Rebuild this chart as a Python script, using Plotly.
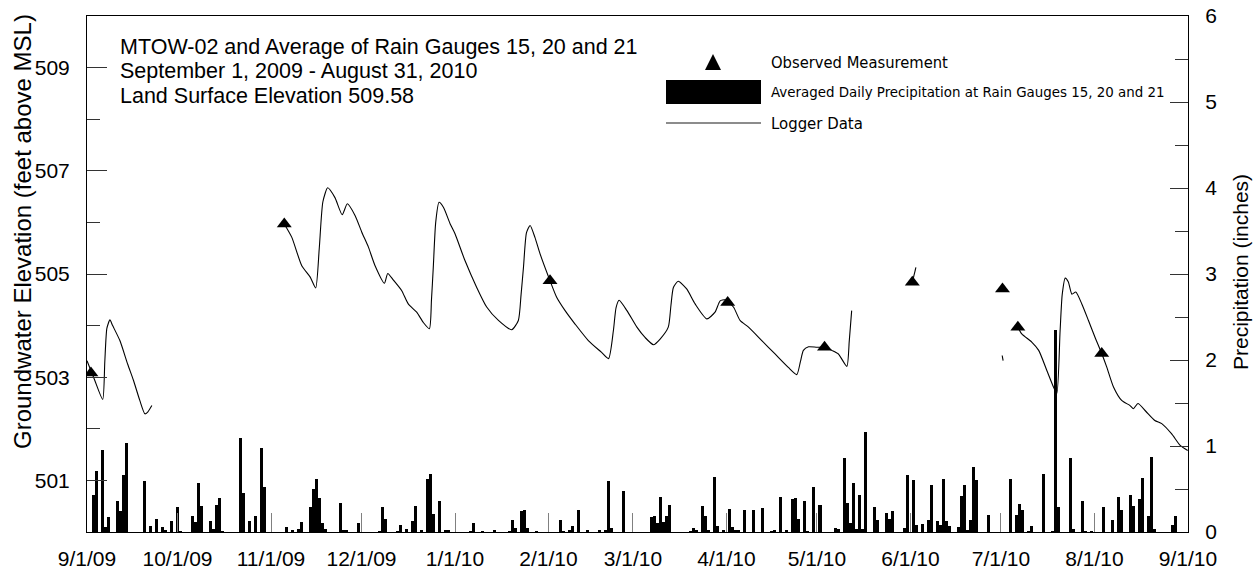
import pandas as pd
import plotly.graph_objects as go

START = pd.Timestamp("2009-09-01")

# daily precipitation (inches), day offsets from 9/1/09
rain_day = [2, 3, 5, 6, 7, 10, 11, 12, 13, 19, 21, 23, 25, 26, 28, 30, 31, 35, 36, 37, 38, 41, 42, 43, 44, 45,
            51, 52, 54, 56, 58, 59, 66, 68, 70, 71, 74, 75, 76, 77, 78, 79, 84, 85, 86, 90, 97, 98, 99,
            103, 104, 106, 108, 109, 111, 113, 114, 115, 117, 119, 120,
            127, 128, 131, 135, 140, 141, 142, 144, 145, 146, 149, 157, 158, 160, 161, 163, 166, 170, 172, 173,
            174, 178, 187, 188, 189, 190, 191, 192, 193, 200, 201, 202, 204, 205, 206, 208, 209, 211, 213, 214,
            215, 216, 218, 221, 224, 227, 228, 230, 232, 234, 235, 236, 238, 239, 241, 243, 248,
            249, 251, 252, 253, 254, 255, 256, 257, 258, 261, 262, 265, 266, 267, 271, 272, 274, 275, 277, 279,
            280, 282, 283, 284, 285, 286, 289, 290, 291, 292, 293, 294, 295, 299, 306, 308, 309, 310, 312, 313,
            317, 320, 321, 322, 326, 327, 330, 331, 333, 337, 340, 342, 343, 346, 347, 349, 350, 352, 353, 354,
            360, 361]
rain_in = [0.43, 0.71, 0.95, 0.06, 0.17, 0.36, 0.24, 0.66, 1.03, 0.59, 0.07, 0.155, 0.054, 0.027, 0.13, 0.29, 0.01,
           0.19, 0.12, 0.57, 0.30, 0.13, 0.04, 0.31, 0.40, 0.01,
           1.09, 0.45, 0.13, 0.19, 0.98, 0.52, 0.06, 0.02, 0.04, 0.12, 0.29, 0.50, 0.62, 0.40, 0.10, 0.04, 0.34,
           0.02, 0.02, 0.11, 0.01, 0.29, 0.155,
           0.01, 0.085, 0.04, 0.13, 0.30, 0.02, 0.62, 0.68, 0.21, 0.36, 0.02, 0.02,
           0.01, 0.11, 0.01, 0.02, 0.01, 0.14, 0.05, 0.24, 0.26, 0.05, 0.01, 0.14, 0.01, 0.02, 0.065, 0.26, 0.02,
           0.02, 0.02, 0.59,
           0.05, 0.48, 0.17, 0.19, 0.10, 0.41, 0.12, 0.19, 0.31, 0.01, 0.05, 0.02, 0.30, 0.19, 0.02, 0.64, 0.07,
           0.02, 0.27, 0.06,
           0.02, 0.02, 0.26, 0.26, 0.275, 0.01, 0.02, 0.41, 0.02, 0.38, 0.39, 0.15, 0.36, 0.01, 0.52, 0.31, 0.05,
           0.04, 0.86, 0.34, 0.11, 0.57, 0.03, 0.43, 0.03, 1.16, 0.29, 0.14, 0.22, 0.155, 0.24, 0.05, 0.66, 0.60,
           0.085, 0.097, 0.136,
           0.55, 0.124, 0.085, 0.62, 0.124, 0.066, 0.054, 0.42, 0.55, 0.02, 0.14, 0.76, 0.60, 0.20, 0.62, 0.20,
           0.33, 0.26, 0.01, 0.07,
           0.67, 0.01, 2.35, 0.29, 0.86, 0.04, 0.36, 0.01, 0.01, 0.29, 0.14, 0.41, 0.26, 0.43, 0.30, 0.38, 0.63,
           0.19, 0.87, 0.03,
           0.085, 0.19]

# logger data segments (day offset, elevation ft)
logger_segments = [
    [(0, 503.32), (2.5, 502.95), (5.2, 502.57), (5.9, 503.3), (6.6, 503.95), (7.6, 504.11), (8.5, 504.0),
     (10.9, 503.71), (13.5, 503.25), (15.4, 502.94), (17.5, 502.55), (19.2, 502.29), (20.2, 502.33),
     (21.5, 502.45)],
    [(65.4, 505.97), (67.9, 505.71), (71.2, 505.16), (74, 504.94), (75.8, 504.73), (77.0, 505.5),
     (78.2, 506.4), (79.8, 506.67), (82.2, 506.48), (84.6, 506.15), (86.3, 506.36), (88.9, 506.13),
     (91.1, 505.81), (93.3, 505.52), (95.5, 505.16), (98.6, 504.82), (99.7, 505.01), (101.6, 504.88),
     (104.3, 504.68), (106.5, 504.42), (109.3, 504.26), (111.5, 504.06), (113.5, 503.94), (114.2, 504.5),
     (114.8, 505.13), (115.6, 506.0), (116.7, 506.39), (118.2, 506.29), (120.4, 505.97), (122, 505.78),
     (125.3, 505.26), (129.2, 504.74), (132.5, 504.36), (136.4, 504.1), (140.8, 503.92), (143, 504.1),
     (143.9, 504.6), (144.7, 505.13), (145.7, 505.8), (146.9, 505.94), (148.5, 505.71), (150.2, 505.39),
     (153.5, 504.87), (155.7, 504.55), (158.5, 504.29), (161.8, 504.03), (166.2, 503.71), (170.6, 503.48),
     (172.9, 503.36), (174.5, 503.9), (175.4, 504.35), (176.4, 504.49), (179, 504.29), (182.3, 503.97),
     (185, 503.77), (187.8, 503.63), (190, 503.74), (192.7, 503.97), (193.6, 504.4), (194.4, 504.74),
     (196, 504.86), (198.8, 504.71), (201.6, 504.42), (205.5, 504.13), (208.2, 504.26), (209.9, 504.48),
     (211.5, 504.5), (214.3, 504.36), (216.5, 504.1), (219.3, 503.97), (223.7, 503.71), (228.1, 503.45),
     (232.5, 503.19), (235.3, 503.05), (236.5, 503.3), (237.5, 503.52), (239.2, 503.59), (242, 503.58),
     (244.5, 503.58), (246.9, 503.52), (249.1, 503.45), (251.9, 503.21), (252.7, 503.7), (253.5, 504.29)],
    [(273.6, 504.84), (274.8, 505.13)],
    [(303.4, 503.42), (303.7, 503.32)],
    [(308.6, 503.97), (309.9, 503.84), (313.2, 503.68), (315.5, 503.52), (318.2, 503.13), (320.4, 502.81),
     (321.5, 502.68), (322.6, 503.9), (323.3, 504.6), (324.3, 504.92), (325.3, 504.85), (326.5, 504.61),
     (327.8, 504.65), (329.8, 504.42), (332, 504.1), (334.2, 503.77), (336.4, 503.46), (338.1, 503.19),
     (340.3, 502.81), (343, 502.55), (345.8, 502.45), (346.9, 502.39), (348.4, 502.49), (351, 502.34),
     (354, 502.16), (356.3, 502.1), (359.6, 501.9), (362.4, 501.68), (364.9, 501.58)],
]

# observed measurements
obs_day = [1.3, 65.4, 153.5, 212.4, 244.5, 273.6, 303.5, 308.6, 336.4]
obs_elev = [503.08, 505.97, 504.87, 504.45, 503.58, 504.84, 504.71, 503.97, 503.46]

month_ticks = ["2009-09-01", "2009-10-01", "2009-11-01", "2009-12-01", "2010-01-01", "2010-02-01",
               "2010-03-01", "2010-04-01", "2010-05-01", "2010-06-01", "2010-07-01", "2010-08-01",
               "2010-09-01"]
month_labels = ["9/1/09", "10/1/09", "11/1/09", "12/1/09", "1/1/10", "2/1/10", "3/1/10", "4/1/10",
                "5/1/10", "6/1/10", "7/1/10", "8/1/10", "9/1/10"]


def to_date(d):
    return START + pd.Timedelta(days=d)


FONT = "Liberation Sans, Arial, sans-serif"
NARROW = "DejaVu Sans Condensed, Liberation Sans Narrow, sans-serif"

line_x, line_y = [], []
for seg in logger_segments:
    for d, v in seg:
        line_x.append(to_date(d))
        line_y.append(v)
    line_x.append(None)
    line_y.append(None)

fig = go.Figure()
fig.add_trace(go.Bar(x=[to_date(d) for d in rain_day], y=rain_in, yaxis="y",
                     marker=dict(color="black", line=dict(width=0)),
                     width=86400000 * 1.0, showlegend=False))
fig.add_trace(go.Scatter(x=line_x, y=line_y, yaxis="y2", mode="lines",
                         line=dict(color="black", width=1.1, shape="spline", smoothing=0.6),
                         connectgaps=False, showlegend=False))
fig.add_trace(go.Scatter(x=[to_date(d) for d in obs_day], y=obs_elev, yaxis="y2", mode="markers",
                         marker=dict(symbol="triangle-up", size=13, color="black"), showlegend=False))

# plot box in pixels
X0, X1, Y0, Y1 = 87, 1188, 16, 532
pw, ph = X1 - X0, Y1 - Y0


def px(xp):
    return (xp - X0) / pw


def py(yp):
    return (Y1 - yp) / ph


fig.update_layout(
    width=1258, height=572,
    margin=dict(l=X0, r=1258 - X1, t=Y0, b=572 - Y1, pad=0),
    paper_bgcolor="white", plot_bgcolor="white",
    font=dict(family=FONT, size=21, color="black"),
    bargap=0,
    xaxis=dict(type="date", range=["2009-09-01", "2010-09-01"], tickvals=month_ticks, ticktext=month_labels,
               ticks="inside", ticklen=19, tickcolor="#808080", tickwidth=1,
               showline=True, linecolor="black", linewidth=1, mirror=True, automargin=False,
               showgrid=False, zeroline=False, ticklabelstandoff=8, tickfont=dict(size=21)),
    yaxis=dict(side="right", range=[0, 6], tickvals=[0, 1, 2, 3, 4, 5, 6],
               ticks="inside", ticklen=18, tickcolor="#333333", tickwidth=1,
               minor=dict(dtick=0.5, ticks="inside", ticklen=13, tickcolor="#333333", tickwidth=1),
               showline=True, linecolor="black", linewidth=1, automargin=False,
               showgrid=False, zeroline=False, ticklabelstandoff=12, tickfont=dict(size=21)),
    yaxis2=dict(overlaying="y", side="left", range=[500, 510], tick0=501, dtick=2,
                ticks="inside", ticklen=20, tickcolor="#333333", tickwidth=1,
                minor=dict(dtick=1, ticks="inside", ticklen=13, tickcolor="#333333", tickwidth=1),
                showline=True, linecolor="black", linewidth=1, automargin=False,
                showgrid=False, zeroline=False, ticklabelstandoff=12, tickfont=dict(size=21)),
)

# header text
header = ["MTOW-02 and Average of Rain Gauges 15, 20 and 21",
          "September 1, 2009 - August 31, 2010",
          "Land Surface Elevation 509.58"]
for i, txt in enumerate(header):
    fig.add_annotation(text=txt, xref="paper", yref="paper", x=px(118), y=py(47 + 24.5 * i),
                       xanchor="left", yanchor="middle", showarrow=False, font=dict(size=21.5))

# axis titles
fig.add_annotation(text="Groundwater Elevation (feet above MSL)", xref="paper", yref="paper",
                   x=px(23), y=py(232), textangle=-90, showarrow=False, xanchor="center", yanchor="middle",
                   font=dict(size=24))
fig.add_annotation(text="Precipitation (inches)", xref="paper", yref="paper",
                   x=px(1240), y=py(272), textangle=-90, showarrow=False, xanchor="center", yanchor="middle",
                   font=dict(size=21))

# legend
fig.add_shape(type="path", xref="paper", yref="paper",
              path=f"M {px(705)},{py(70)} L {px(721)},{py(70)} L {px(713)},{py(54)} Z",
              fillcolor="black", line=dict(width=0))
fig.add_shape(type="rect", xref="paper", yref="paper", x0=px(666), x1=px(761), y0=py(104), y1=py(80),
              fillcolor="black", line=dict(width=0))
fig.add_shape(type="line", xref="paper", yref="paper", x0=px(666), x1=px(761), y0=py(123), y1=py(123),
              line=dict(color="#666666", width=1.5))
legend_txt = ["Observed Measurement", "Averaged Daily Precipitation at Rain Gauges 15, 20 and 21", "Logger Data"]
legend_size = [16.4, 14.9, 16.6]
for txt, yy, fs in zip(legend_txt, [62, 92, 123], legend_size):
    fig.add_annotation(text=txt, xref="paper", yref="paper", x=px(769), y=py(yy), xanchor="left",
                       yanchor="middle", showarrow=False, font=dict(family=NARROW, size=fs))

# the page body has a default 8px margin; drop it so the figure sits at the window corner
fig.write_html("out.html", config={"displayModeBar": False},
               post_script="document.body.style.margin = '0';")
